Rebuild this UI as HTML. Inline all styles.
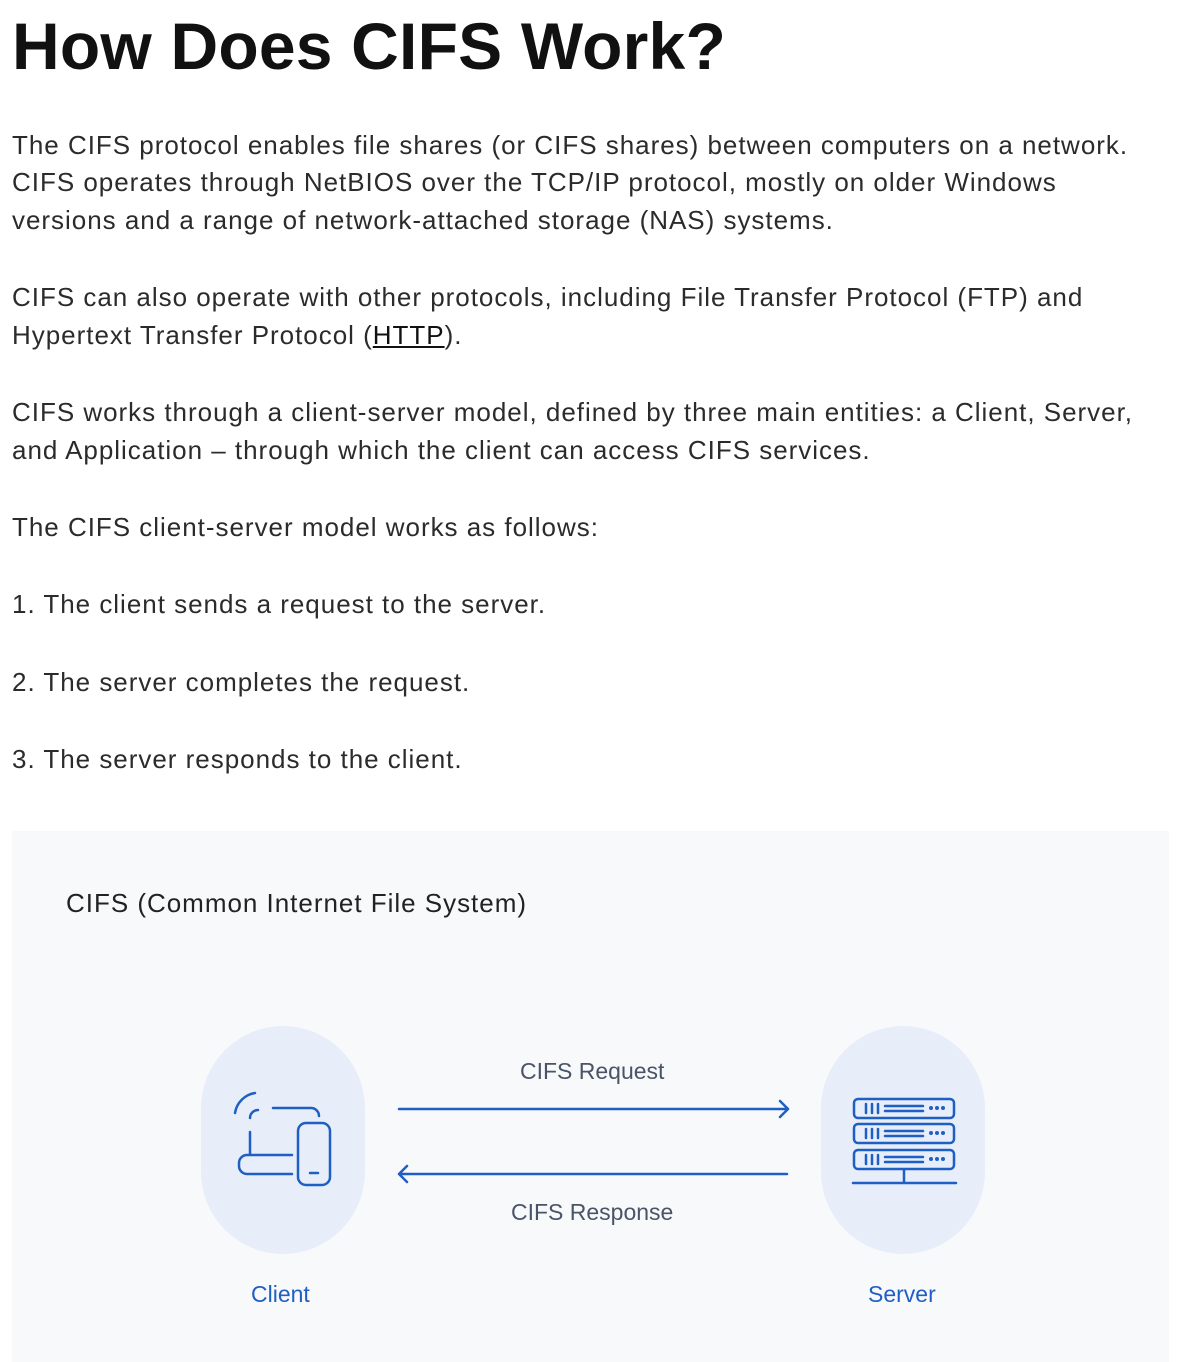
<!DOCTYPE html>
<html><head><meta charset="utf-8"><style>
body{margin:0;width:1180px;height:1362px;background:#fff;position:relative;overflow:hidden;font-family:"Liberation Sans",sans-serif;color:#2b2b2b}
.t{position:absolute;left:12px;white-space:nowrap;font-size:26px;line-height:38px;letter-spacing:0.98px}
h1{position:absolute;left:12px;top:6px;margin:0;font-size:66px;font-weight:bold;color:#111;white-space:nowrap;line-height:80px;letter-spacing:0.2px}
.d{position:absolute;left:12px;top:831px;width:1157px;height:531px;background:#f8f9fb}
.pill{position:absolute;width:164px;height:228px;border-radius:82px;background:#e7eefa}
.lbl{position:absolute;font-size:23px;color:#4a5468;white-space:nowrap}
.blue{position:absolute;font-size:23px;color:#1f5fc4;white-space:nowrap}
</style></head><body>
<h1>How Does CIFS Work?</h1>
<div class="t" style="top:126px">The CIFS protocol enables file shares (or CIFS shares) between computers on a network.</div>
<div class="t" style="top:163px">CIFS operates through NetBIOS over the TCP/IP protocol, mostly on older Windows</div>
<div class="t" style="top:201px">versions and a range of network-attached storage (NAS) systems.</div>
<div class="t" style="top:278px">CIFS can also operate with other protocols, including File Transfer Protocol (FTP) and</div>
<div class="t" style="top:316px">Hypertext Transfer Protocol (<u style="color:#111">HTTP</u>).</div>
<div class="t" style="top:393px">CIFS works through a client-server model, defined by three main entities: a Client, Server,</div>
<div class="t" style="top:431px">and Application – through which the client can access CIFS services.</div>
<div class="t" style="top:508px">The CIFS client-server model works as follows:</div>
<div class="t" style="top:585px">1. The client sends a request to the server.</div>
<div class="t" style="top:663px">2. The server completes the request.</div>
<div class="t" style="top:740px">3. The server responds to the client.</div>
<div class="d"></div>
<div class="t" style="left:66px;top:884px;color:#222">CIFS (Common Internet File System)</div>
<div class="pill" style="left:201px;top:1026px"></div>
<div class="pill" style="left:821px;top:1026px"></div>
<div class="lbl" style="left:520px;top:1058px">CIFS Request</div>
<div class="lbl" style="left:511px;top:1199px">CIFS Response</div>
<div class="blue" style="left:251px;top:1281px">Client</div>
<div class="blue" style="left:868px;top:1281px">Server</div>
<svg width="1180" height="1362" style="position:absolute;left:0;top:0" fill="none" stroke="#1f5fc4" stroke-width="2.5" stroke-linecap="round" stroke-linejoin="round">
<path d="M399 1109H788M780 1101l8 8-8 8"/>
<path d="M399 1174H787M407 1166l-8 8 8 8"/>
<path d="M235 1113a24 24 0 0 1 20-20"/>
<path d="M250 1118a8 8 0 0 1 8-8"/>
<path d="M273 1108h38a8 8 0 0 1 8 8"/>
<path d="M250 1132v22"/>
<path d="M292 1155h-45a8 8 0 0 0-8 8v3a8 8 0 0 0 8 8h45"/>
<rect x="298" y="1123" width="32" height="62" rx="8"/>
<path d="M310 1173h8"/>
<g>
<rect x="854" y="1099" width="100" height="19" rx="4"/>
<rect x="854" y="1124" width="100" height="19" rx="4"/>
<rect x="854" y="1150" width="100" height="19" rx="4"/>
<path d="M866 1104v9M872 1104v9M878 1104v9M885 1106h38M885 1111h38"/>
<path d="M866 1129v9M872 1129v9M878 1129v9M885 1131h38M885 1136h38"/>
<path d="M866 1155v9M872 1155v9M878 1155v9M885 1157h38M885 1162h38"/>
<path d="M904 1169v14M853 1183h103"/>
</g>
<g fill="#1f5fc4" stroke="none">
<circle cx="931" cy="1108" r="2"/><circle cx="937" cy="1108" r="2"/><circle cx="943" cy="1108" r="2"/>
<circle cx="931" cy="1133" r="2"/><circle cx="937" cy="1133" r="2"/><circle cx="943" cy="1133" r="2"/>
<circle cx="931" cy="1159" r="2"/><circle cx="937" cy="1159" r="2"/><circle cx="943" cy="1159" r="2"/>
</g>
</svg>
</body></html>
